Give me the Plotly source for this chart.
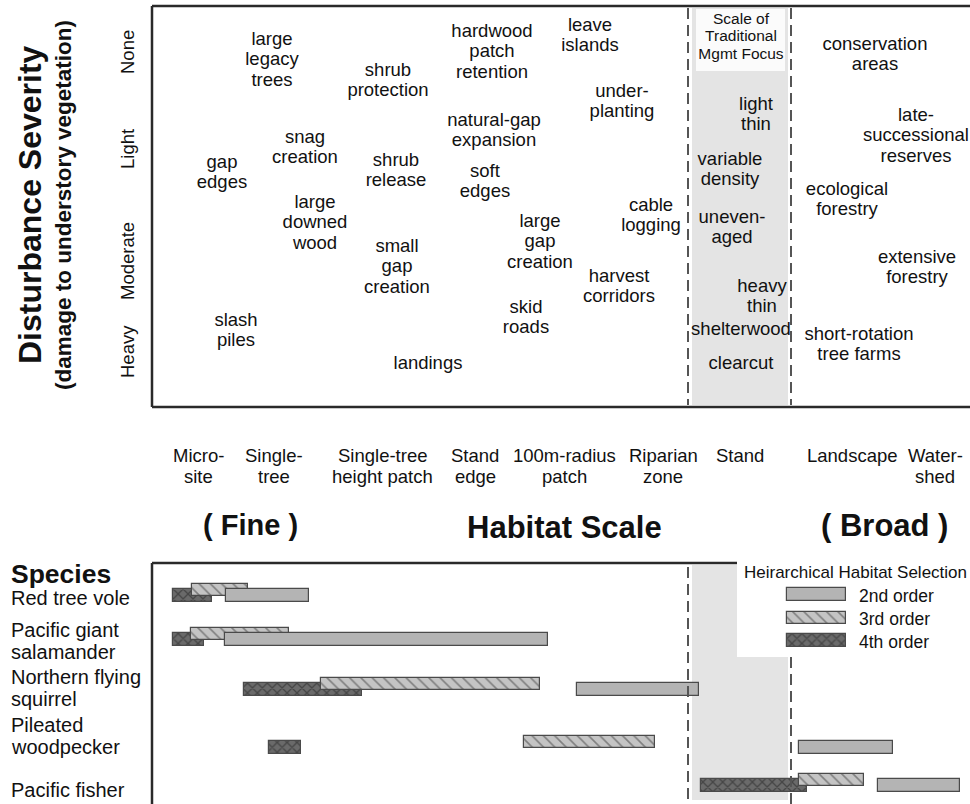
import plotly.graph_objects as go

# ---------------- data ----------------
severity_levels = ["None", "Light", "Moderate", "Heavy"]
severity_pos = [52, 149, 261, 352]

habitat_scales = ["Micro-<br>site", "Single-<br>tree", "Single-tree<br>height patch", "Stand<br>edge",
                  "100m-radius<br>patch", "Riparian<br>zone", "Stand", "Landscape", "Water-<br>shed"]
habitat_scale_pos = [198, 274, 382, 475, 564, 663, 740, 852, 935]

practice_labels = [
    "large<br>legacy<br>trees", "shrub<br>protection", "hardwood<br>patch<br>retention", "leave<br>islands",
    "under-<br>planting", "natural-gap<br>expansion", "snag<br>creation", "gap<br>edges", "shrub<br>release",
    "soft<br>edges", "large<br>downed<br>wood", "small<br>gap<br>creation", "large<br>gap<br>creation",
    "cable<br>logging", "harvest<br>corridors", "skid<br>roads", "slash<br>piles", "landings",
    "light<br>thin", "variable<br>density", "uneven-<br>aged", "heavy<br>thin", "shelterwood", "clearcut",
    "conservation<br>areas", "late-<br>successional<br>reserves", "ecological<br>forestry",
    "extensive<br>forestry", "short-rotation<br>tree farms"]
practice_scale = [272, 388, 492, 590, 622, 494, 305, 222, 396, 485, 315, 397, 540, 651, 619, 526, 236, 428,
                  756, 730, 732, 762, 741, 741, 875, 916, 847, 917, 859]
practice_severity = [40, 71, 32, 26, 92, 121, 138, 163, 161, 172, 203, 247, 222, 206, 277, 308, 321, 364,
                     105, 160, 218, 287, 330, 364, 45, 116, 190, 258, 335]

species = ["Red tree vole", "Pacific giant<br>salamander", "Northern flying<br>squirrel",
           "Pileated<br>woodpecker", "Pacific fisher"]

order2_start = [226, 225, 577, 799, 878]
order2_end = [309, 548, 699, 893, 960]
order3_start = [192, 191, 321, 524, 799]
order3_end = [248, 289, 540, 655, 864]
order4_start = [173, 173, 244, 269, 701]
order4_end = [212, 204, 362, 301, 807]

# ---------------- layout constants ----------------
W, H = 970, 804
FONT = "Liberation Sans, Arial, sans-serif"
TXT = "#111111"
row_y = [595.5, 639.5, 689.5, 747.5, 785.5]
species_label_y = [598, 630, 677, 725, 790]
BAR_H = 12.5
OFF3 = -5.5

fig = go.Figure()

def split_lines(labels, xs, ys, step):
    ox, oy, ot = [], [], []
    for lab, x, y in zip(labels, xs, ys):
        for i, part in enumerate(lab.split("<br>")):
            ox.append(x)
            oy.append(y + i * step)
            ot.append(part)
    return ox, oy, ot

# shapes: frames, shaded focus, dashed lines
shapes = []
gray = "#e4e4e4"
shapes.append(dict(type="rect", x0=692, x1=788, y0=8, y1=405, fillcolor=gray, line=dict(width=0), layer="below"))
shapes.append(dict(type="rect", x0=696, x1=785, y0=9, y1=71, fillcolor="#fbfbfb", line=dict(width=0), layer="below"))
shapes.append(dict(type="path", path="M 692 565 L 737 565 L 737 657 L 788 657 L 788 800 L 692 800 Z",
                   fillcolor=gray, line=dict(width=0), layer="below"))
dash = dict(color="#555555", width=2, dash="11px,6px")
shapes.append(dict(type="line", x0=688, x1=688, y0=8, y1=405, line=dash))
shapes.append(dict(type="line", x0=791, x1=791, y0=8, y1=405, line=dash))
shapes.append(dict(type="line", x0=688, x1=688, y0=567, y1=802, line=dash))
shapes.append(dict(type="line", x0=791, x1=791, y0=657, y1=804, line=dash))
frame = dict(color="#2a2a2a", width=2.5)
shapes.append(dict(type="line", x0=152, x1=972, y0=6, y1=6, line=frame))
shapes.append(dict(type="line", x0=152, x1=152, y0=6, y1=407, line=frame))
shapes.append(dict(type="line", x0=152, x1=972, y0=407, y1=407, line=frame))
shapes.append(dict(type="line", x0=152, x1=737, y0=563, y1=563, line=frame))
shapes.append(dict(type="line", x0=152, x1=152, y0=563, y1=806, line=frame))

# practices text (top panel)
px, py, pt = split_lines(practice_labels, practice_scale, practice_severity, 20.5)
fig.add_trace(go.Scatter(x=px, y=py, text=pt, mode="text", textposition="middle center",
                         textfont=dict(family=FONT, size=18.5, color=TXT), hoverinfo="skip", showlegend=False))

sx, sy, st = split_lines(["Scale of<br>Traditional<br>Mgmt Focus"], [741], [20], 17.5)
fig.add_trace(go.Scatter(x=sx, y=sy, text=st, mode="text", textposition="middle center",
                         textfont=dict(family=FONT, size=15.5, color=TXT), hoverinfo="skip", showlegend=False))

# bars (bottom panel)
lw = dict(color="#4a4a4a", width=1.2)
pat3 = dict(shape="\\", fgcolor="#3a3a3a", bgcolor="#c4c4c4", size=8, solidity=0.2)
pat4 = dict(shape="x", fgcolor="#222222", bgcolor="#6a6a6a", size=7, solidity=0.35)
fig.add_trace(go.Bar(orientation="h", y=row_y, base=order4_start,
                     x=[e - s for s, e in zip(order4_start, order4_end)], width=BAR_H,
                     marker=dict(color="#6a6a6a", line=lw, pattern=pat4),
                     name="4th order", showlegend=False, hoverinfo="skip"))
fig.add_trace(go.Bar(orientation="h", y=[r + OFF3 for r in row_y], base=order3_start,
                     x=[e - s for s, e in zip(order3_start, order3_end)], width=BAR_H,
                     marker=dict(color="#c4c4c4", line=lw, pattern=pat3),
                     name="3rd order", showlegend=False, hoverinfo="skip"))
fig.add_trace(go.Bar(orientation="h", y=row_y, base=order2_start,
                     x=[e - s for s, e in zip(order2_start, order2_end)], width=BAR_H,
                     marker=dict(color="#b4b4b4", line=lw),
                     name="2nd order", showlegend=False, hoverinfo="skip"))

# legend swatches
leg_y = [594.5, 618, 640.5]
leg_x0, leg_x1 = 787, 846
for y, mk in zip(leg_y, [dict(color="#b4b4b4", line=lw),
                         dict(color="#c4c4c4", line=lw, pattern=pat3),
                         dict(color="#6a6a6a", line=lw, pattern=pat4)]):
    fig.add_trace(go.Bar(orientation="h", y=[y], base=[leg_x0], x=[leg_x1 - leg_x0], width=BAR_H,
                         marker=mk, showlegend=False, hoverinfo="skip"))

ann = []
def A(text, x, y, size, bold=False, xanchor="center", angle=0, pad=1):
    t = f"<b>{text}</b>" if bold else text
    ann.append(dict(text=t, x=x, y=y, xref="x", yref="y", showarrow=False, xanchor=xanchor, yanchor="middle",
                    textangle=angle, borderpad=pad, font=dict(family=FONT, size=size, color=TXT)))

A("Heirarchical Habitat Selection", 855, 572, 17)
for lab, y in zip(["2nd order", "3rd order", "4th order"], leg_y):
    A(lab, 857, y + 1, 17.5, xanchor="left")

A("Disturbance Severity", 30, 205, 32, bold=True, angle=-90)
A("(damage to understory vegetation)", 63, 205, 22.5, bold=True, angle=-90)
for lab, y in zip(severity_levels, severity_pos):
    A(lab, 127, y, 18.5, angle=-90)

for lab, x in zip(habitat_scales, habitat_scale_pos):
    for i, part in enumerate(lab.split("<br>")):
        A(part, x, 455 + i * 21, 18.5)

A("( Fine )", 250, 525, 29, bold=True)
A("Habitat Scale", 564, 527, 31, bold=True)
A("( Broad )", 884, 525, 31, bold=True)
A("Species", 10, 574, 26.5, bold=True, xanchor="left", pad=0)

for lab, y in zip(species, species_label_y):
    for i, part in enumerate(lab.split("<br>")):
        A(part, 10, y + i * 22, 20, xanchor="left", pad=0)

fig.update_layout(
    width=W, height=H, margin=dict(l=0, r=0, t=0, b=0),
    paper_bgcolor="white", plot_bgcolor="white",
    barmode="overlay", bargap=0,
    xaxis=dict(range=[0, W], visible=False, fixedrange=True),
    yaxis=dict(range=[H, 0], visible=False, fixedrange=True),
    shapes=shapes, annotations=ann, showlegend=False,
)

fig.write_html("out.html", config={"displayModeBar": False},
               post_script="document.body.style.margin='0';document.body.style.overflow='hidden';")
